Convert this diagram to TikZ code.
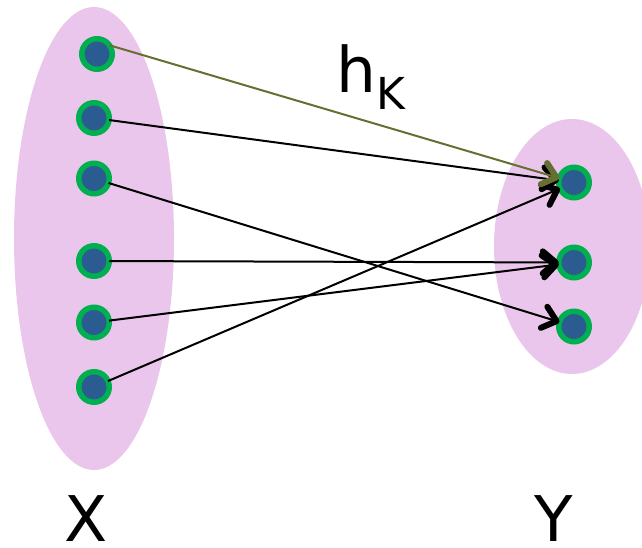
\documentclass[tikz,border=0pt]{standalone}
\usepackage{fontspec}
\setmainfont{DejaVu Sans}
\usetikzlibrary{arrows.meta}
\definecolor{pinkfill}{RGB}{235,198,236}
\definecolor{ringgreen}{RGB}{0,176,80}
\definecolor{dotblue}{RGB}{43,92,145}
\definecolor{olive}{RGB}{102,110,50}
\begin{document}
\begin{tikzpicture}[x=1pt,y=-1pt,
  dotnode/.style={circle,draw=ringgreen,fill=dotblue,line width=5.5pt,minimum size=30.5pt,inner sep=0pt,outer sep=0pt},
  conn/.style={line width=2pt,-{Straight Barb[length=13pt,width=22pt,line width=6pt,round]}},
  bigtext/.style={font=\fontsize{63}{63}\selectfont,anchor=base,inner sep=0pt}]
\useasboundingbox (0,0) rectangle (642,548);
\clip (0,0) rectangle (642,548);
\fill[pinkfill] (94,238.5) ellipse [x radius=80, y radius=231.5];
\fill[pinkfill] (572,246.5) ellipse [x radius=78, y radius=127.5];
\node[dotnode] (x1) at (97,54) {};
\node[dotnode] (x2) at (94,118) {};
\node[dotnode] (x3) at (94,178.5) {};
\node[dotnode] (x4) at (94,261) {};
\node[dotnode] (x5) at (94,322.5) {};
\node[dotnode] (x6) at (94,387) {};
\node[dotnode] (y1) at (574,182.5) {};
\node[dotnode] (y2) at (574,262.5) {};
\node[dotnode] (y3) at (574,326.5) {};
\draw[conn] (x2) -- (y1);
\draw[conn] (x3) -- (y3);
\draw[conn] (x4) -- (y2);
\draw[conn] (x5) -- (y2);
\draw[conn] (x6) -- (y1);
\draw[conn,draw=olive] (x1.35) -- (y1);
\node[bigtext] (hk) at (356,93) {h};
\node[font=\fontsize{44}{44}\selectfont,anchor=base west,inner sep=0pt] (kk) at (376,110) {K};
\node[bigtext] (xl) at (86,541) {X};
\node[bigtext] (yl) at (554,541) {Y};
\end{tikzpicture}
\end{document}
